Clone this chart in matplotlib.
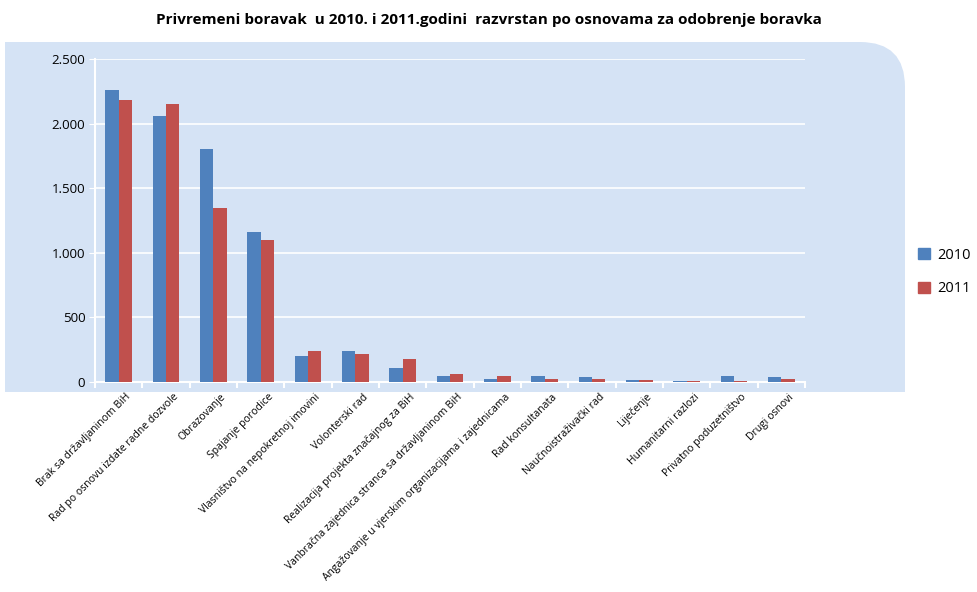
import matplotlib
matplotlib.use("Agg")
import matplotlib.pyplot as plt
import matplotlib.transforms as mtransforms
import numpy as np
from matplotlib.path import Path
from matplotlib.patches import PathPatch, Patch

categories = [
    "Brak sa državljaninom BiH",
    "Rad po osnovu izdate radne dozvole",
    "Obrazovanje",
    "Spajanje porodice",
    "Vlasništvo na nepokretnoj imovini",
    "Volonterski rad",
    "Realizacija projekta značajnog za BiH",
    "Vanbračna zajednica stranca sa državljaninom BiH",
    "Angažovanje u vjerskim organizacijama i zajednicama",
    "Rad konsultanata",
    "Naučnoistraživački rad",
    "Liječenje",
    "Humanitarni razlozi",
    "Privatno poduzetništvo",
    "Drugi osnovi",
]
values_2010 = [2260, 2059, 1803, 1161, 201, 240, 108, 46, 23, 46, 39, 15, 8, 46, 35]
values_2011 = [2183, 2152, 1347, 1099, 240, 213, 178, 62, 43, 27, 27, 15, 8, 8, 27]
series_labels = ["2010", "2011"]
yticks = [0, 500, 1000, 1500, 2000, 2500]
ytick_labels = ["0", "500", "1.000", "1.500", "2.000", "2.500"]

W, H = 977, 592
fig = plt.figure(figsize=(W / 100, H / 100), dpi=100)
plt.rcParams['font.family'] = ['Open Sans', 'DejaVu Sans']

# background panel with rounded top-right corner (pixel coords -> figure fraction)
x0, x1, ytop, ybot, r = 5, 905, 42, 392, 45
def fp(x, y):
    return (x / W, 1 - y / H)
verts = [fp(x0, ybot), fp(x0, ytop), fp(x1 - r, ytop), fp(x1, ytop), fp(x1, ytop + r), fp(x1, ybot), fp(x0, ybot)]
codes = [Path.MOVETO, Path.LINETO, Path.LINETO, Path.CURVE3, Path.CURVE3, Path.LINETO, Path.CLOSEPOLY]
bg = PathPatch(Path(verts, codes), transform=fig.transFigure, facecolor="#D5E3F5", edgecolor="none", zorder=-10)
fig.patches.append(bg)

ax = fig.add_axes([95 / W, 1 - 382 / H, (805 - 95) / W, (382 - 59) / H])
ax.set_zorder(1)
ax.set_facecolor("none")
n = len(categories)
x = np.arange(n)
bw = 0.285
c1, c2 = "#4F81BD", "#C0504D"
ax.bar(x - bw / 2, values_2010, bw, color=c1, zorder=3)
ax.bar(x + bw / 2, values_2011, bw, color=c2, zorder=3)
ax.set_xlim(-0.5, n - 0.5)
ax.set_ylim(0, 2500)
ax.set_yticks(yticks)
ax.set_yticklabels(ytick_labels, fontsize=9.5)
ax.yaxis.grid(True, color="white", linewidth=1.2, zorder=1)
ax.set_axisbelow(True)
for s in ["top", "right"]:
    ax.spines[s].set_visible(False)
ax.spines["left"].set_color("white")
ax.spines["bottom"].set_color("white")
ax.spines["left"].set_linewidth(1.5)
ax.spines["bottom"].set_linewidth(1.5)
ax.tick_params(axis="y", length=4, color="white", pad=3)
ax.set_xticks(np.arange(-0.5, n, 1.0), minor=False)
ax.set_xticklabels([])
ax.tick_params(axis="x", which="major", length=4, color="white", width=1.5)
ax.set_xticks(x, minor=True)
ax.set_xticklabels(categories, minor=True, rotation=45, ha="right", va="top",
                   rotation_mode="anchor", fontsize=7.5)
ax.tick_params(axis="x", which="minor", length=0, pad=7)
offset = mtransforms.ScaledTranslation(7 / 100, 0, fig.dpi_scale_trans)
for lbl in ax.get_xticklabels(minor=True):
    lbl.set_transform(lbl.get_transform() + offset)

fig.text(0.5, 1 - 20 / H, "Privremeni boravak  u 2010. i 2011.godini  razvrstan po osnovama za odobrenje boravka",
         ha="center", va="center", fontsize=11, fontweight="bold")

fig.legend(handles=[Patch(color=c1), Patch(color=c2)], labels=series_labels,
           loc="center left", bbox_to_anchor=(918 / W, 1 - 272 / H), frameon=False,
           borderpad=0, borderaxespad=0,
           fontsize=10.5, handlelength=0.8, handleheight=0.8, labelspacing=1.3, handletextpad=0.5)

fig.savefig("out.png", dpi=100)
